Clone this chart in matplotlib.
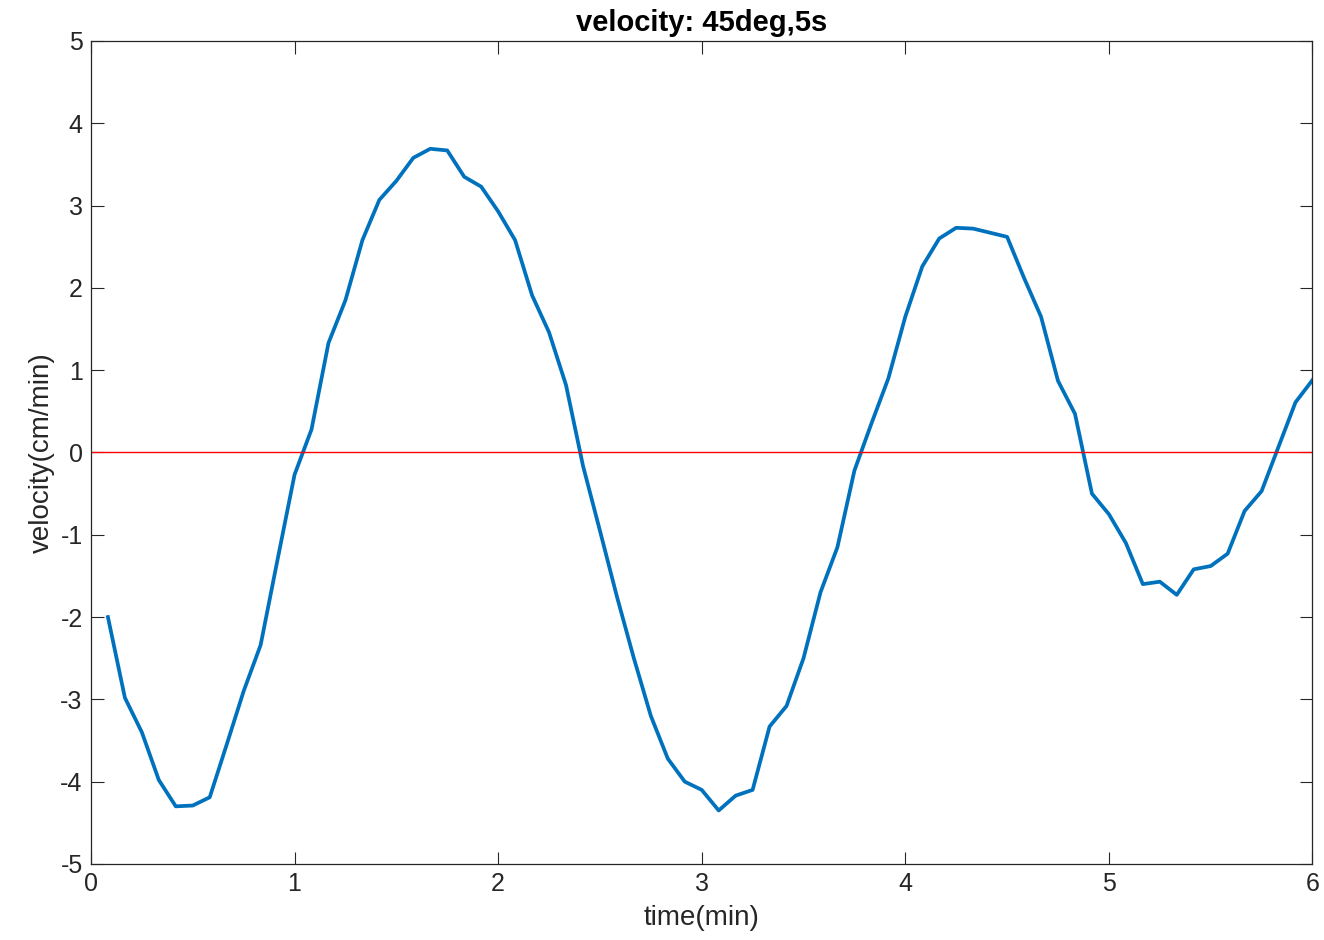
import numpy as np
import matplotlib.pyplot as plt

# samples every 5 s, shown in minutes
time_s = np.arange(5, 365, 5)
time_min = time_s / 60.0

velocity = [-2.0, -2.98, -3.40, -3.98, -4.30, -4.29, -4.19, -3.55, -2.90, -2.34,
            -1.30, -0.27, 0.28, 1.33, 1.85, 2.58, 3.07, 3.30, 3.58, 3.69,
            3.67, 3.35, 3.23, 2.93, 2.58, 1.91, 1.46, 0.82, -0.16, -0.95,
            -1.75, -2.5, -3.2, -3.72, -4.0, -4.1, -4.35, -4.17, -4.1, -3.33,
            -3.08, -2.5, -1.7, -1.15, -0.22, 0.35, 0.9, 1.65, 2.26, 2.6,
            2.73, 2.72, 2.67, 2.62, 2.12, 1.65, 0.87, 0.47, -0.5, -0.75,
            -1.1, -1.6, -1.57, -1.73, -1.42, -1.38, -1.23, -0.71, -0.47, 0.07,
            0.61, 0.88]

plt.rcParams['font.family'] = ['Liberation Sans', 'DejaVu Sans']
plt.rcParams['axes.unicode_minus'] = False

fig = plt.figure(figsize=(13.24, 9.4), dpi=100)
ax = fig.add_axes([0.0687, 0.0809, 0.9226, 0.8755])

ax.plot(time_min, velocity, color='#0072BD', linewidth=2.7)
ax.axhline(0, color='red', linewidth=1.0)

ax.set_xlim(0, 6)
ax.set_ylim(-5, 5)
ax.set_xticks(range(0, 7))
ax.set_yticks(range(-5, 6))
ax.tick_params(direction='in', length=9, width=0.8, top=True, right=True,
               labelsize=18, colors='#262626', pad=6)
for s in ax.spines.values():
    s.set_color('#262626')
    s.set_linewidth(0.9)

ax.set_xlabel('time(min)', fontsize=20, color='#262626', labelpad=6)
ax.set_ylabel('velocity(cm/min)', fontsize=20, color='#262626', labelpad=4)
ax.set_title('velocity: 45deg,5s', fontsize=21, fontweight='bold', pad=7)

fig.savefig('out.png', dpi=100)
